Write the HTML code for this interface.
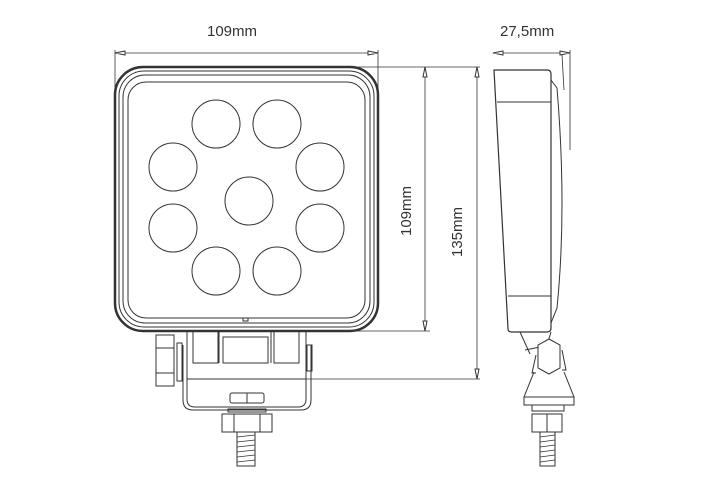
<!DOCTYPE html>
<html><head><meta charset="utf-8"><style>
html,body{margin:0;padding:0;background:#fff;width:725px;height:496px;overflow:hidden}
svg{display:block}
text{font-family:"Liberation Sans",sans-serif;fill:#333;font-size:15px}
</style></head><body>
<svg width="725" height="496" viewBox="0 0 725 496" fill="none" stroke="#333" stroke-width="1">
<!-- dimension lines -->
<line x1="115" y1="53" x2="378" y2="53" stroke-width="0.8"/>
<path d="M115 53 l10 -2 v4 z M378 53 l-10 -2 v4 z" fill="#fff"/>
<line x1="115" y1="50" x2="115" y2="95" stroke-width="0.8"/>
<line x1="378" y1="50" x2="378" y2="95" stroke-width="0.8"/>
<text x="207" y="36" stroke="none">109mm</text>

<line x1="345" y1="67" x2="480" y2="67" stroke-width="0.8"/>
<line x1="340" y1="331" x2="430" y2="331" stroke-width="0.8"/>
<line x1="300" y1="379" x2="480" y2="379" stroke-width="0.8"/>
<line x1="425" y1="67" x2="425" y2="331" stroke-width="0.8"/>
<line x1="477" y1="67" x2="477" y2="379" stroke-width="0.8"/>
<path d="M425 67 l-2 10 h4 z M425 331 l-2 -10 h4 z M477 67 l-2 10 h4 z M477 379 l-2 -10 h4 z" fill="#fff"/>
<text transform="translate(411,236) rotate(-90)" stroke="none">109mm</text>
<text transform="translate(462,257) rotate(-90)" stroke="none">135mm</text>

<!-- front body -->
<rect x="115" y="67" width="263" height="264" rx="28" stroke-width="2.5"/>
<rect x="119" y="71" width="255" height="256" rx="25" stroke-width="1"/>
<rect x="123" y="75" width="247" height="248" rx="22" stroke-width="1"/>
<rect x="128" y="82" width="237" height="236" rx="18" stroke-width="1"/>
<g stroke-width="1">
<circle cx="216" cy="124" r="24"/><circle cx="277" cy="124" r="24"/>
<circle cx="173" cy="167" r="24"/><circle cx="320" cy="167" r="24"/>
<circle cx="249" cy="201" r="24"/>
<circle cx="173" cy="228" r="24"/><circle cx="320" cy="228" r="24"/>
<circle cx="216" cy="271" r="24"/><circle cx="277" cy="271" r="24"/>
</g>
<path d="M243 318 v3 h5 v-3"/>

<!-- mount front -->
<path d="M187 331 v68 q0 8 8 8 h103 q8 0 8 -8 v-68" />
<path d="M183 345 v55 q0 10 10 10 h108 q10 0 10 -10 v-55" />
<line x1="187" y1="379" x2="306" y2="379"/>
<rect x="193" y="331" width="25" height="32"/>
<rect x="223" y="337" width="45" height="26"/>
<rect x="274" y="331" width="25" height="32"/>
<line x1="219" y1="331" x2="219" y2="363"/><line x1="271" y1="331" x2="271" y2="363"/>
<rect x="177" y="343" width="5" height="38"/>
<rect x="307" y="345" width="5" height="26"/>
<rect x="156" y="335" width="18" height="51"/>
<line x1="156" y1="348" x2="174" y2="348"/><line x1="156" y1="373" x2="174" y2="373"/>
<rect x="230" y="393" width="34" height="10" rx="2"/><line x1="247" y1="393" x2="247" y2="403"/>
<rect x="228" y="409" width="38" height="3"/>
<rect x="222" y="414" width="50" height="18"/>
<line x1="234" y1="414" x2="234" y2="432"/><line x1="260" y1="414" x2="260" y2="432"/>
<rect x="237" y="432" width="18" height="34"/>
<path d="M237 437 l18 -2 M237 442 l18 -2 M237 447 l18 -2 M237 452 l18 -2 M237 457 l18 -2 M237 462 l18 -2" stroke-width="0.8"/>

<!-- side view -->
<line x1="493" y1="53" x2="570" y2="53" stroke-width="0.8"/>
<path d="M493 53 l10 -2 v4 z M570 53 l-10 -2 v4 z" fill="#fff"/>
<line x1="570" y1="50" x2="570" y2="150" stroke-width="0.8"/>
<line x1="562" y1="55" x2="564" y2="90" stroke-width="0.8"/>
<text x="500" y="36" stroke="none">27,5mm</text>
<path d="M494 70 h53 q4 0 4 4 v254 q0 4 -4 4 h-35 q-4 0 -4 -3 z" stroke-width="1.2"/>
<line x1="497" y1="102" x2="551" y2="102"/>
<line x1="508" y1="296" x2="551" y2="296"/>
<line x1="551" y1="74" x2="551" y2="330"/>
<path d="M551 80 l6 8 q10 120 0 220 l-6 15" />
<path d="M520 332 l10 22 M551 332 l-6 20 M525 350 l30 -6"/>
<path d="M549 339 l11 6 v23 l-11 6 l-11 -6 v-23 z" fill="#fff"/>
<path d="M536 355 l-4 18 h4 M562 350 l4 20 h-4"/>
<path d="M534 372 l-10 25 h50 l-10 -25"/>
<path d="M524 397 v8 h50 v-8"/>
<rect x="532" y="405" width="32" height="6"/>
<rect x="532" y="414" width="30" height="18"/><line x1="547" y1="414" x2="547" y2="432"/>
<rect x="540" y="432" width="15" height="34"/>
<path d="M540 437 l15 -2 M540 442 l15 -2 M540 447 l15 -2 M540 452 l15 -2 M540 457 l15 -2 M540 462 l15 -2" stroke-width="0.8"/>
</svg>
</body></html>
